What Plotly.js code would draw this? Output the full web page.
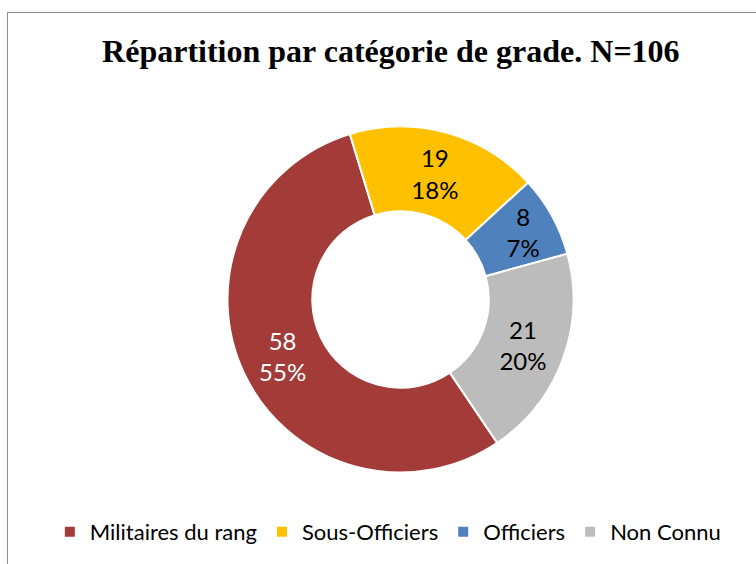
<!DOCTYPE html>
<html>
<head>
<meta charset="utf-8">
<script src="https://cdn.plot.ly/plotly-3.0.1.min.js"></script>
<style>
  html, body { margin: 0; padding: 0; background: #fff; }
  #wrap { position: relative; width: 756px; height: 564px; overflow: hidden; }
  #frame { position: absolute; left: 7px; top: 12px; width: 800px; height: 600px;
           border-left: 1.5px solid #8c8c8c; border-top: 1.5px solid #8c8c8c; pointer-events: none; }
  #chart { position: absolute; left: 0; top: 0; width: 756px; height: 564px; }
</style>
</head>
<body>
<div id="wrap">
  <div id="chart"></div>
  <div id="frame"></div>
</div>
<script>
// Data
const categories = ['Militaires du rang', 'Sous-Officiers', 'Officiers', 'Non Connu'];
const counts = [58, 19, 8, 21];
const percentLabels = ['55%', '18%', '7%', '20%'];
const sliceColors = ['#a33b38', '#ffc000', '#4f81bd', '#bcbcbc'];
const labelColors = ['#ffffff', '#000000', '#000000', '#000000'];
const chartTitle = 'Répartition par catégorie de grade. N=106';

const W = 756, H = 564;
const cx = 400.5, cy = 299.5, r = 173;

const trace = {
  type: 'pie',
  labels: categories,
  values: counts,
  text: percentLabels,
  texttemplate: '%{value}<br>%{text}',
  textinfo: 'text',
  textposition: 'inside',
  insidetextorientation: 'horizontal',
  textfont: { family: 'Lato, "Liberation Sans", sans-serif', size: 24, color: labelColors },
  hole: 0.51,
  sort: false,
  direction: 'clockwise',
  rotation: 146,
  marker: { colors: sliceColors, line: { color: '#ffffff', width: 2 } },
  domain: { x: [(cx - r) / W, (cx + r) / W], y: [(H - (cy + r)) / H, (H - (cy - r)) / H] },
  hoverinfo: 'label+value+percent'
};

const layout = {
  width: W, height: H,
  margin: { l: 0, r: 0, t: 0, b: 0 },
  paper_bgcolor: '#ffffff',
  uniformtext: { minsize: 24, mode: 'show' },
  title: {
    text: '<b>' + chartTitle + '</b>',
    font: { family: '"Liberation Serif", "Times New Roman", serif', size: 32, color: '#000000' },
    x: 0.517, xanchor: 'center', y: 0.91, yanchor: 'middle'
  },
  showlegend: true,
  legend: {
    orientation: 'h',
    x: 0.513, xanchor: 'center', y: 0.057, yanchor: 'middle',
    font: { family: 'Lato, "Liberation Sans", sans-serif', size: 22, color: '#000000' },
    itemwidth: 30, tracegroupgap: 0
  }
};

Plotly.newPlot('chart', [trace], layout, { displayModeBar: false, staticPlot: true });
</script>
</body>
</html>
